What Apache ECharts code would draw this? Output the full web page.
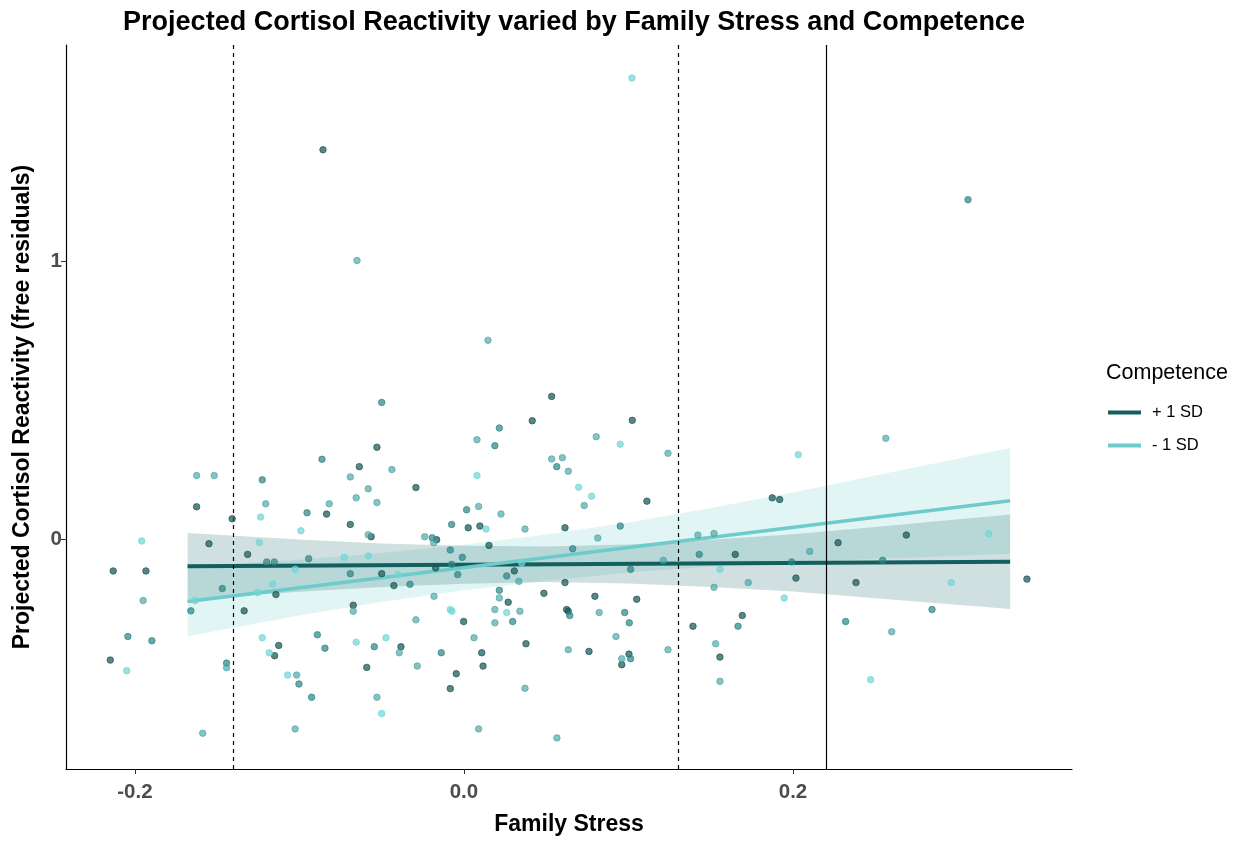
<!DOCTYPE html>
<html><head><meta charset="utf-8">
<script src="https://cdn.jsdelivr.net/npm/echarts@6/dist/echarts.min.js"></script>
<style>html,body{margin:0;padding:0;background:#fff}#c{width:1242px;height:841px}</style>
</head><body><div id="c"></div>
<script>
// ---- data ----
const xTicks = [-0.2, 0.0, 0.2];
const yTicks = [0, 1];
const xTickLabels = ['-0.2', '0.0', '0.2'];
const yTickLabels = ['0', '1'];
const refLinesDashed = [-0.138, 0.131];
const refLinesSolid = [0.22];

const pointsDark = [[-0.1625,0.1183],[-0.1409,0.0753],[-0.1550,-0.0143],[-0.1315,-0.0527],[-0.2132,-0.1122],[-0.1933,-0.1122],[0.0533,0.5151],[0.0415,0.4276],[-0.0529,0.3323],[-0.0636,0.2627],[-0.0292,0.1875],[-0.0835,0.0921],[-0.0691,0.0548],[0.0026,0.0430],[0.0097,0.0491],[-0.0564,0.0108],[-0.0166,0.0],[0.0152,-0.0204],[-0.0500,-0.1219],[-0.0172,-0.1014],[0.0306,-0.1122],[0.1023,0.4290],[0.1112,0.1387],[0.0614,0.0430],[0.1874,0.1505],[0.1919,0.1444],[0.1649,-0.0527],[0.2274,-0.0108],[0.2689,0.0168],[0.2018,-0.1380],[0.3422,-0.1416],[-0.1143,-0.1971],[-0.1336,-0.2556],[-0.1126,-0.3799],[-0.1151,-0.4168],[-0.2150,-0.4326],[-0.0426,-0.1649],[0.0269,-0.2247],[0.0486,-0.1925],[-0.0673,-0.2355],[-0.0002,-0.2939],[-0.0383,-0.3846],[0.0108,-0.4061],[0.0377,-0.3738],[-0.0591,-0.4588],[0.0116,-0.4541],[-0.0047,-0.4814],[-0.0083,-0.5351],[0.0614,-0.1541],[0.0796,-0.2032],[0.1050,-0.2140],[0.0624,-0.2509],[0.0634,-0.2570],[0.0760,-0.4014],[0.1003,-0.4111],[0.0959,-0.4491],[0.1692,-0.2724],[0.1392,-0.3108],[0.1556,-0.4219],[0.2383,-0.1541],[-0.0857,1.4014]];
const pointsMid = [[-0.1226,0.2151],[-0.0954,0.0968],[-0.1199,-0.0799],[-0.1153,-0.0799],[-0.0944,-0.0681],[-0.0863,0.2892],[-0.0500,0.4935],[0.0215,0.4014],[0.0188,0.3380],[0.0564,0.2627],[0.0016,0.1075],[-0.0075,0.0548],[-0.0193,0.0072],[-0.0083,-0.0369],[-0.0010,-0.0634],[-0.0691,-0.1219],[-0.0075,-0.0885],[-0.0038,-0.1254],[0.0260,-0.1301],[0.0950,0.0491],[0.0661,-0.0323],[0.1430,-0.0527],[0.1013,-0.1065],[0.1992,-0.0799],[0.2545,-0.0742],[-0.1469,-0.1756],[-0.1660,-0.2556],[-0.2043,-0.3477],[-0.1897,-0.3631],[-0.0891,-0.3416],[-0.1443,-0.4434],[-0.1003,-0.5186],[-0.0926,-0.5663],[-0.0328,-0.1602],[0.0215,-0.1817],[0.0296,-0.2939],[-0.0845,-0.3896],[-0.0545,-0.3846],[-0.0138,-0.4061],[0.0643,-0.2724],[0.0977,-0.2616],[0.1005,-0.2986],[0.1013,-0.4276],[0.1666,-0.3108],[0.2845,-0.2509],[0.2320,-0.2939],[0.3064,1.2222]];
const pointsMidLight = [[-0.1625,0.2305],[-0.1518,0.2305],[-0.1205,0.1290],[0.0079,0.3595],[-0.0438,0.2520],[-0.0691,0.2258],[0.0533,0.2903],[-0.0582,0.1828],[-0.0655,0.1505],[-0.0529,0.1337],[-0.0819,0.1290],[0.0089,0.1194],[0.0225,0.0921],[0.0371,0.0384],[-0.0582,0.0179],[-0.0239,0.0108],[-0.0184,-0.0108],[0.0804,0.3703],[0.1240,0.3108],[0.0598,0.2950],[0.0634,0.2462],[0.0731,0.1229],[0.0813,0.0061],[0.1422,0.0168],[0.1520,0.0226],[0.1212,-0.0742],[0.2564,0.3645],[0.2102,-0.0419],[-0.1950,-0.2186],[-0.1443,-0.4599],[-0.1017,-0.4864],[-0.1588,-0.6953],[-0.1026,-0.6799],[0.0334,-0.1495],[0.0215,-0.2090],[-0.0673,-0.2570],[-0.0182,-0.2032],[0.0188,-0.2509],[0.0340,-0.2570],[-0.0292,-0.2878],[0.0188,-0.2986],[-0.0393,-0.4061],[0.0061,-0.3523],[-0.0284,-0.4541],[0.0371,-0.5341],[-0.0529,-0.5663],[0.0089,-0.6799],[0.0565,-0.7122],[0.1520,-0.1710],[0.1728,-0.1541],[0.0822,-0.2616],[0.0924,-0.3477],[0.0634,-0.3953],[0.0959,-0.4276],[0.1240,-0.3953],[0.1530,-0.3738],[0.1556,-0.5090],[0.2600,-0.3308],[-0.0650,1.0036],[0.0146,0.7168]];
const pointsLight = [[-0.1236,0.0814],[-0.0991,0.0323],[-0.1959,-0.0047],[-0.1244,-0.0097],[-0.1026,-0.1065],[0.0079,0.2305],[0.0134,0.0384],[-0.0728,-0.0634],[-0.0582,-0.0584],[0.0351,-0.0835],[-0.0401,-0.1254],[0.0950,0.3430],[0.0697,0.1889],[0.0776,0.1566],[0.2032,0.3057],[0.1556,-0.1065],[0.3190,0.0215],[-0.1163,-0.1588],[-0.1254,-0.1900],[-0.1635,-0.2186],[-0.1226,-0.3523],[-0.1184,-0.4061],[-0.2050,-0.4706],[-0.1072,-0.4864],[-0.0083,-0.2509],[-0.0073,-0.2570],[0.0260,-0.2616],[-0.0655,-0.3681],[-0.0474,-0.3523],[-0.0500,-0.6247],[0.1947,-0.2090],[0.2962,-0.1541],[0.2472,-0.5029],[0.1021,1.6595]];

// fitted lines (+1 SD / -1 SD competence)
const fitX = [-0.168, 0.332];
const fitHigh = [-0.0957, -0.0789];
const fitLow = [-0.222, 0.140];
// confidence ribbons
const bandX = [-0.168, -0.1, -0.05, 0.0, 0.05, 0.1, 0.15, 0.2, 0.25, 0.332];
const bandHighUpper = [0.024, 0.001, -0.014, -0.022, -0.024, -0.017, 0.000, 0.020, 0.046, 0.091];
const bandHighLower = [-0.216, -0.187, -0.170, -0.158, -0.152, -0.157, -0.170, -0.186, -0.210, -0.249];
const bandLowUpper = [-0.097, -0.072, -0.048, -0.018, 0.019, 0.062, 0.114, 0.170, 0.231, 0.330];
const bandLowLower = [-0.347, -0.272, -0.224, -0.182, -0.147, -0.118, -0.096, -0.080, -0.069, -0.050];

const seriesNames = ['+ 1 SD', '- 1 SD'];

// ---- chart ----
const chart = echarts.init(document.getElementById('c'), null, {renderer: 'canvas'});
const FONT = 'Liberation Sans, Arial, sans-serif';

function band(upper, lower, color, z) {
  return {
    type: 'custom', silent: true, z: z, clip: true,
    data: [[bandX[0], upper[0]]],
    encode: {x: 0, y: 1},
    renderItem: function (params, api) {
      const pts = [];
      for (let i = 0; i < bandX.length; i++) pts.push(api.coord([bandX[i], upper[i]]));
      for (let i = bandX.length - 1; i >= 0; i--) pts.push(api.coord([bandX[i], lower[i]]));
      return {type: 'polygon', shape: {points: pts}, style: {fill: color}};
    }
  };
}
function pts(data, color, op) {
  return {
    type: 'scatter', data: data, symbolSize: 6.5, z: 5, silent: true,
    itemStyle: {color: color, opacity: op, borderColor: color, borderWidth: 1}
  };
}

chart.setOption({
  animation: false,
  backgroundColor: '#ffffff',
  title: [{
    text: 'Projected Cortisol Reactivity varied by Family Stress and Competence',
    left: 569, top: 4, textAlign: 'center',
    textStyle: {fontFamily: FONT, fontWeight: 'bold', fontSize: 27, color: '#000'}
  }, {
    text: 'Competence', left: 1101, top: 357,
    textStyle: {fontFamily: FONT, fontWeight: 'normal', fontSize: 21.5, color: '#000'}
  }],
  legend: {
    data: seriesNames, orient: 'vertical', left: 1103, top: 399,
    icon: 'rect', itemWidth: 33, itemHeight: 4, itemGap: 16,
    textStyle: {fontFamily: FONT, fontSize: 16.5, color: '#000', padding: [0, 0, 0, 6]}
  },
  grid: {left: 66, right: 170, top: 45, bottom: 70, containLabel: false},
  xAxis: {
    type: 'value', min: -0.2419, max: 0.3696,
    name: 'Family Stress', nameLocation: 'middle', nameGap: 44,
    nameTextStyle: {fontFamily: FONT, fontWeight: 'bold', fontSize: 23, color: '#000'},
    axisLine: {onZero: false, lineStyle: {color: '#000', width: 1.2}},
    axisTick: {length: 5, lineStyle: {color: '#333'}, customValues: xTicks},
    axisLabel: {customValues: xTicks, margin: 13, fontFamily: FONT, fontWeight: 'bold', fontSize: 20.5, color: '#4d4d4d',
      formatter: v => xTickLabels[xTicks.findIndex(t => Math.abs(t - v) < 1e-9)] ?? ''},
    splitLine: {show: false}
  },
  yAxis: {
    type: 'value', min: -0.824, max: 1.778,
    name: 'Projected Cortisol Reactivity (free residuals)', nameLocation: 'middle', nameGap: 32,
    nameTextStyle: {fontFamily: FONT, fontWeight: 'bold', fontSize: 23, color: '#000'},
    axisLine: {onZero: false, lineStyle: {color: '#000', width: 1.2}},
    axisTick: {length: 5, lineStyle: {color: '#333'}, customValues: yTicks},
    axisLabel: {customValues: yTicks, margin: 4, fontFamily: FONT, fontWeight: 'bold', fontSize: 20.5, color: '#4d4d4d',
      formatter: v => yTickLabels[yTicks.findIndex(t => Math.abs(t - v) < 1e-9)] ?? ''},
    splitLine: {show: false}
  },
  series: [
    band(bandLowUpper, bandLowLower, 'rgba(110,205,205,0.2)', 1),
    band(bandHighUpper, bandHighLower, 'rgba(19,94,94,0.2)', 2),
    pts(pointsDark, '#1a5858', 0.72),
    pts(pointsMid, '#2b8585', 0.7),
    pts(pointsMidLight, '#46a3a3', 0.65),
    pts(pointsLight, '#6fd6d6', 0.7),
    {
      name: seriesNames[0], type: 'line', z: 4, silent: true, showSymbol: false,
      data: fitX.map((x, i) => [x, fitHigh[i]]),
      itemStyle: {color: '#135e5e'}, lineStyle: {color: '#135e5e', width: 4},
      markLine: {
        silent: true, symbol: 'none', label: {show: false},
        data: refLinesDashed.map(v => ({xAxis: v, lineStyle: {type: [4, 4], color: '#000', width: 1.2}}))
          .concat(refLinesSolid.map(v => ({xAxis: v, lineStyle: {type: 'solid', color: '#000', width: 1.2}})))
      }
    },
    {
      name: seriesNames[1], type: 'line', z: 4, silent: true, showSymbol: false,
      data: fitX.map((x, i) => [x, fitLow[i]]),
      itemStyle: {color: '#6dcbcb'}, lineStyle: {color: '#6dcbcb', width: 3.5}
    }
  ]
});
</script>
</body></html>
